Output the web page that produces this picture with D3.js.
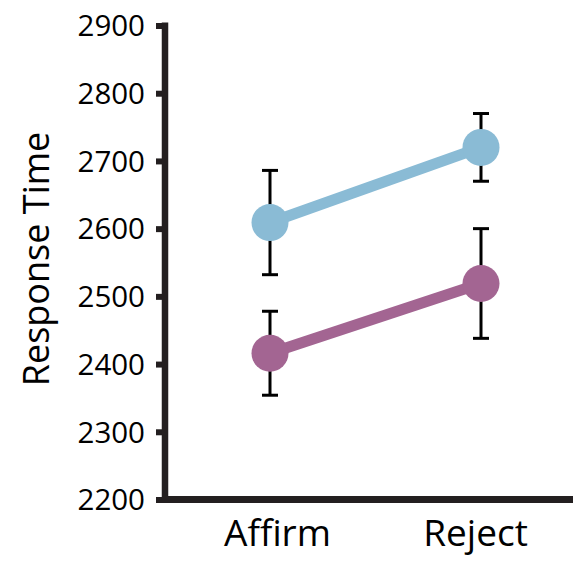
<!DOCTYPE html>
<html>
<head>
<meta charset="utf-8">
<script src="https://cdn.jsdelivr.net/npm/d3@7"></script>
<style>
  html, body { margin: 0; padding: 0; background: #fff; }
  svg { display: block; font-family: "Open Sans", sans-serif; }
</style>
</head>
<body>
<svg id="chart" width="573" height="563"></svg>
<script>
// Conditions on the x axis
const conditions = ["Affirm", "Reject"];

// Mean response time per condition, with error bar half-widths
const blueMeans = [2609, 2720];
const blueErrors = [77, 50];
const purpleMeans = [2416, 2519];
const purpleErrors = [62, 81];

const yTicks = [2200, 2300, 2400, 2500, 2600, 2700, 2800, 2900];

const seriesList = [
  { name: "blue", color: "#8abbd5", means: blueMeans, errors: blueErrors },
  { name: "purple", color: "#a36592", means: purpleMeans, errors: purpleErrors }
];

const FONT = "'Open Sans', sans-serif";
const svg = d3.select("#chart");

const x = d3.scalePoint().domain(conditions).range([270, 481]);
const y = d3.scaleLinear().domain([2200, 2900]).range([499.5, 25.5]);

// Y axis
const yAxis = svg.append("g")
  .attr("transform", "translate(165,0)")
  .call(d3.axisLeft(y).tickValues(yTicks).tickSize(9).tickPadding(11).tickFormat(d3.format("d")))
  .attr("font-family", FONT);
yAxis.select(".domain").remove();
yAxis.selectAll(".tick line").attr("stroke", "#231f20").attr("stroke-width", 6);
yAxis.selectAll(".tick text").attr("fill", "#000").attr("dy", "0.35em").style("font-size", "29.5px");
yAxis.append("line")
  .attr("x1", 0).attr("x2", 0)
  .attr("y1", y(2900) - 3).attr("y2", y(2200))
  .attr("stroke", "#231f20").attr("stroke-width", 6.5);

// X axis
const xAxis = svg.append("g")
  .attr("transform", `translate(0,${y(2200)})`)
  .call(d3.axisBottom(x).tickSize(0))
  .attr("font-family", FONT);
xAxis.select(".domain").remove();
xAxis.selectAll(".tick text")
  .attr("fill", "#000")
  .attr("y", 46)
  .attr("dy", 0)
  .attr("dx", d => d === "Affirm" ? 7 : -6)
  .style("font-size", "37px");
xAxis.append("line")
  .attr("x1", 162).attr("x2", 573)
  .attr("y1", 0).attr("y2", 0)
  .attr("stroke", "#231f20").attr("stroke-width", 7);

// Y axis title
svg.append("text")
  .attr("transform", "translate(48.5,259) rotate(-90)")
  .attr("text-anchor", "middle")
  .attr("font-family", FONT)
  .style("font-size", "36px")
  .attr("fill", "#000")
  .text("Response Time");

const line = d3.line()
  .x((d, i) => x(conditions[i]))
  .y(d => y(d));

seriesList.forEach(s => {
  const g = svg.append("g").attr("class", "series-" + s.name);

  // Error bars
  const eb = g.selectAll(".err").data(s.means).enter().append("g").attr("class", "err");
  eb.append("line")
    .attr("x1", (d, i) => x(conditions[i])).attr("x2", (d, i) => x(conditions[i]))
    .attr("y1", (d, i) => y(d + s.errors[i])).attr("y2", (d, i) => y(d - s.errors[i]))
    .attr("stroke", "#000").attr("stroke-width", 3);
  [1, -1].forEach(sign => {
    eb.append("line")
      .attr("x1", (d, i) => x(conditions[i]) - 8).attr("x2", (d, i) => x(conditions[i]) + 8)
      .attr("y1", (d, i) => y(d + sign * s.errors[i])).attr("y2", (d, i) => y(d + sign * s.errors[i]))
      .attr("stroke", "#000").attr("stroke-width", 3);
  });

  // Connecting line
  g.append("path")
    .datum(s.means)
    .attr("d", line)
    .attr("fill", "none")
    .attr("stroke", s.color)
    .attr("stroke-width", 11);

  // Markers
  g.selectAll("circle").data(s.means).enter().append("circle")
    .attr("cx", (d, i) => x(conditions[i]))
    .attr("cy", d => y(d))
    .attr("r", 18.5)
    .attr("fill", s.color);
});
</script>
</body>
</html>
